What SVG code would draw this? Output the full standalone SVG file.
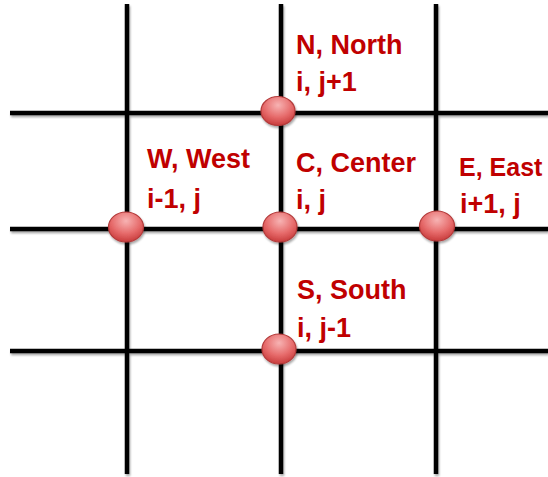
<svg xmlns="http://www.w3.org/2000/svg" width="548" height="477" viewBox="0 0 548 477">
  <defs>
    <radialGradient id="ball" cx="50%" cy="30%" r="70%">
      <stop offset="0" stop-color="#f7b3b3"/>
      <stop offset="0.6" stop-color="#e66a6a"/>
      <stop offset="1" stop-color="#c83c3c"/>
    </radialGradient>
    <filter id="shadow" x="-10%" y="-10%" width="130%" height="130%">
      <feGaussianBlur in="SourceAlpha" stdDeviation="1.2"/>
      <feOffset dx="1" dy="2" result="b"/>
      <feComponentTransfer><feFuncA type="linear" slope="0.35"/></feComponentTransfer>
      <feMerge><feMergeNode/><feMergeNode in="SourceGraphic"/></feMerge>
    </filter>
  </defs>
  <style>
    .grid line { stroke: #000; stroke-width: 4.5; }
    .node ellipse { fill: url(#ball); stroke: #b33a3a; stroke-width: 1.2; }
    .lbl { font-family: "Liberation Sans", Arial, sans-serif; font-weight: bold; font-size: 27px; fill: #C00000; }
    .sm { font-size: 25px; }
  </style>
  <rect width="548" height="477" fill="#fff"/>
  <g id="connectors" class="grid" filter="url(#shadow)">
    <line x1="127" y1="4" x2="127" y2="474"/>
    <line x1="281" y1="4" x2="281" y2="474"/>
    <line x1="436" y1="4" x2="436" y2="474"/>
    <line x1="10" y1="113" x2="548" y2="113"/>
    <line x1="10" y1="229" x2="548" y2="229"/>
    <line x1="10" y1="351" x2="548" y2="351"/>
  </g>
  <g id="north" class="node">
    <ellipse cx="278" cy="111" rx="17" ry="14.5" filter="url(#shadow)"/>
    <text class="lbl" x="296" y="54">N, North</text>
    <text class="lbl" x="296" y="91">i, j+1</text>
  </g>
  <g id="west" class="node">
    <ellipse cx="126" cy="227" rx="17.5" ry="15" filter="url(#shadow)"/>
    <text class="lbl" x="147" y="168">W, West</text>
    <text class="lbl" x="147" y="208">i-1, j</text>
  </g>
  <g id="center" class="node">
    <ellipse cx="280" cy="227" rx="17" ry="15" filter="url(#shadow)"/>
    <text class="lbl" x="296" y="172">C, Center</text>
    <text class="lbl" x="296" y="209">i, j</text>
  </g>
  <g id="east" class="node">
    <ellipse cx="437" cy="226" rx="17.5" ry="15" filter="url(#shadow)"/>
    <text class="lbl sm" x="459" y="176">E, East</text>
    <text class="lbl" x="460" y="213">i+1, j</text>
  </g>
  <g id="south" class="node">
    <ellipse cx="279" cy="349" rx="17" ry="15" filter="url(#shadow)"/>
    <text class="lbl" x="297" y="299">S, South</text>
    <text class="lbl" x="297" y="337">i, j-1</text>
  </g>
</svg>
